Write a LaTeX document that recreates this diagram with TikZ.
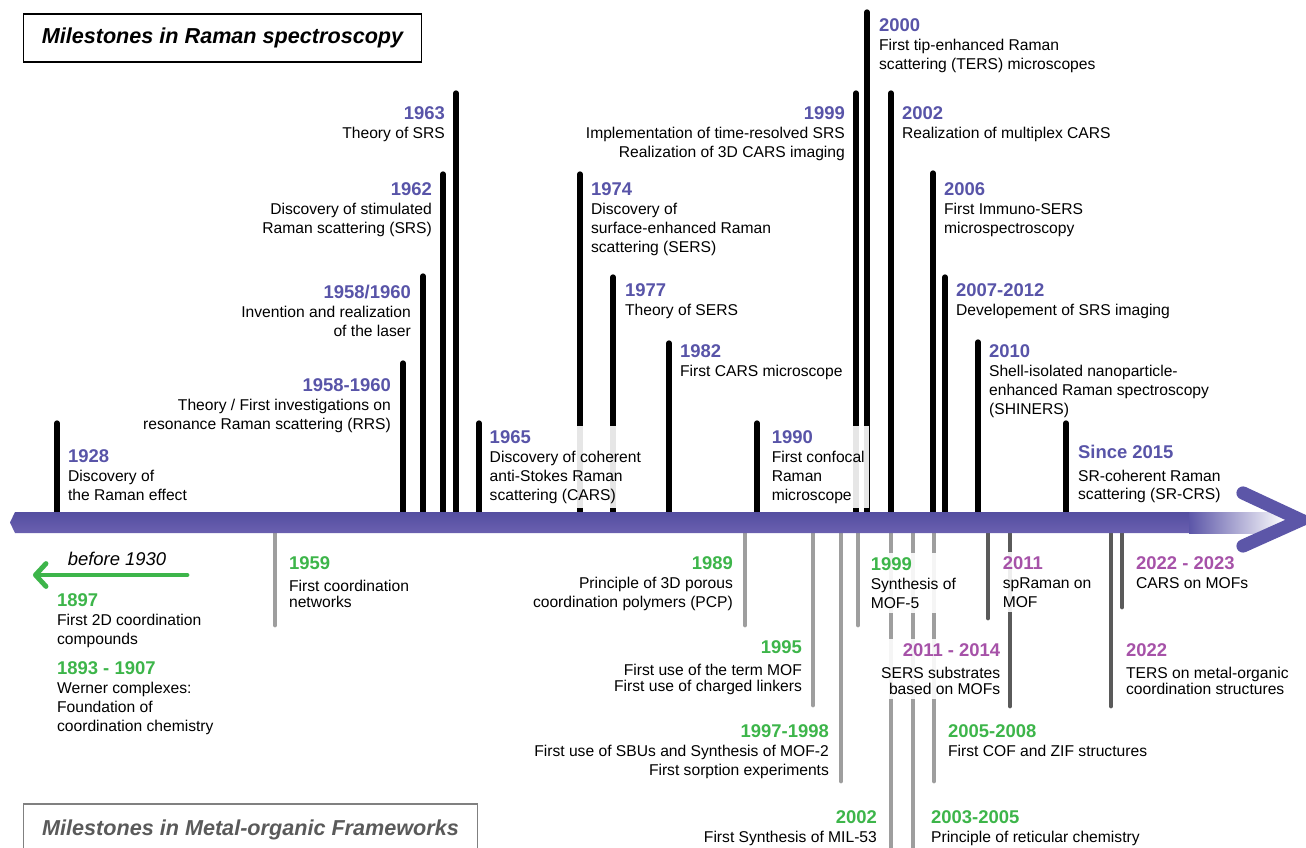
\documentclass[tikz,border=0pt]{standalone}
\usepackage{fontspec}
\setmainfont{Liberation Sans}
\usepackage{tikz}
\usetikzlibrary{arrows.meta}

\definecolor{ramanblue}{RGB}{88,84,168}
\definecolor{axisblue}{RGB}{92,86,168}
\definecolor{axistop}{RGB}{84,78,160}
\definecolor{axisbot}{RGB}{106,96,176}
\definecolor{mofgreen}{RGB}{61,181,74}
\definecolor{mofpink}{RGB}{166,82,168}
\definecolor{stemgray}{RGB}{158,158,158}
\definecolor{darkstem}{RGB}{90,90,90}
\definecolor{boxgray}{RGB}{90,90,90}

\newcommand{\ry}[1]{{\fontsize{10.5}{12}\selectfont\bfseries\color{ramanblue}#1}}
\newcommand{\my}[1]{{\fontsize{10.5}{12}\selectfont\bfseries\color{mofgreen}#1}}
\newcommand{\sy}[1]{{\fontsize{10.5}{12}\selectfont\bfseries\color{mofpink}#1}}

\begin{document}
\begin{tikzpicture}[x=0.02cm,y=-0.02cm,line cap=round,inner sep=1pt]
		\tikzstyle{rstem}=[black,line width=3pt]
		\tikzstyle{mstem}=[stemgray,line width=2.8pt]
		\tikzstyle{sstem}=[darkstem,line width=2.8pt]
		\tikzstyle{lab}=[font=\fontsize{8.9}{10.7}\selectfont]
		\tikzstyle{tight}=[font=\fontsize{8.9}{9}\selectfont]
		\tikzstyle{veil}=[fill=white,fill opacity=0.9,text opacity=1,inner sep=2.5pt]
		\tikzstyle{titlebox}=[draw,line width=0.6pt,font=\fontsize{12.3}{14}\selectfont\bfseries\itshape]

		\useasboundingbox (0,0) rectangle (1306,848);

		\foreach \x/\t in {57/423,403/363,423/276,443/174,456/93,479/423,580/174,613/277,669/343,
				757/423,856/93,867/12,891/93,933/173,945/277,978/342,1066/423}
			\draw[rstem] (\x,516) -- (\x,\t);
		\foreach \x/\b in {275/625,745/625,813/705,841/781,858/625,891/870,913/870,934/781}
			\draw[mstem] (\x,528) -- (\x,\b);
		\foreach \x/\b in {988/618,1010/706,1111/706,1122/607}
			\draw[sstem] (\x,528) -- (\x,\b);

		\shade[top color=axistop,bottom color=axisbot] (15,512) -- (1190,512) -- (1190,533) -- (15,533) -- (10,522.5) -- cycle;
		\shade[left color=axisblue,right color=white] (1189,512) rectangle (1285,533);
		\draw[axisblue,line width=7.5pt,line join=miter] (1243,493) -- (1301,520) -- (1243,546);

		\node[titlebox] (T1) at (222.5,38) [minimum width=7.98cm,minimum height=0.96cm]
			{Milestones in Raman spectroscopy};
		\node[titlebox,draw=gray,text=boxgray] (T2) at (250.5,830) [minimum width=9.1cm,minimum height=1.04cm]
			{Milestones in Metal-organic Frameworks};

		\node[lab,anchor=north west,align=left] (R1) at (66,448) {\ry{1928}\\Discovery of\\the Raman effect};
		\node[lab,anchor=north east,align=right] (R2) at (393,377) {\ry{1958-1960}\\Theory / First investigations on\\resonance Raman scattering (RRS)};
		\node[lab,anchor=north east,align=right] (R3) at (413,283) {\ry{1958/1960}\\Invention and realization\\of the laser};
		\node[lab,anchor=north east,align=right] (R4) at (434,181) {\ry{1962}\\Discovery of stimulated\\Raman scattering (SRS)};
		\node[lab,anchor=north east,align=right] (R5) at (447,105) {\ry{1963}\\Theory of SRS};
		\node[lab,veil,anchor=north west,align=left] (R6) at (485,426) {\ry{1965}\\Discovery of coherent\\anti-Stokes Raman\\scattering (CARS)};
		\node[lab,anchor=north west,align=left] (R7) at (589,181) {\ry{1974}\\Discovery of\\surface-enhanced Raman\\scattering (SERS)};
		\node[lab,anchor=north west,align=left] (R8) at (623,282) {\ry{1977}\\Theory of SERS};
		\node[lab,anchor=north west,align=left] (R9) at (678,343) {\ry{1982}\\First CARS microscope};
		\node[lab,veil,anchor=north west,align=left] (R10) at (767,426) {\ry{1990}\\First confocal\\Raman\\microscope};
		\node[lab,anchor=north east,align=right] (R11) at (847,105) {\ry{1999}\\Implementation of time-resolved SRS\\Realization of 3D CARS imaging};
		\node[lab,anchor=north west,align=left] (R12) at (877,17) {\ry{2000}\\First tip-enhanced Raman\\scattering (TERS) microscopes};
		\node[lab,anchor=north west,align=left] (R13) at (900,105) {\ry{2002}\\Realization of multiplex CARS};
		\node[lab,anchor=north west,align=left] (R14) at (942,181) {\ry{2006}\\First Immuno-SERS\\microspectroscopy};
		\node[lab,anchor=north west,align=left] (R15) at (954,282) {\ry{2007-2012}\\Developement of SRS imaging};
		\node[lab,anchor=north west,align=left] (R16) at (987,343) {\ry{2010}\\Shell-isolated nanoparticle-\\enhanced Raman spectroscopy\\(SHINERS)};
		\node[lab,anchor=north west,align=left] (R17) at (1076,443) {\ry{Since 2015}\\[2.2pt]SR-coherent Raman\\scattering (SR-CRS)};

		\node[font=\fontsize{10.5}{12}\selectfont\itshape] (B0) at (117,559) {before 1930};
		\coordinate (G1) at (187,575);
		\coordinate (G0) at (33,575);
		\draw[mofgreen,line width=2.8pt,-{Straight Barb[round,length=6pt,width=13pt]}] (G1) -- (G0);

		\node[lab,anchor=north west,align=left] (M9) at (55,592) {\my{1897}\\First 2D coordination\\compounds};
		\node[lab,anchor=north west,align=left] (M10) at (55,660) {\my{1893 - 1907}\\Werner complexes:\\Foundation of\\coordination chemistry};
		\node[tight,anchor=north west,align=left] (M1) at (287,555) {\my{1959}\\[3.4pt]First coordination\\networks};
		\node[lab,anchor=north east,align=right] (M2) at (735,555) {\my{1989}\\Principle of 3D porous\\coordination polymers (PCP)};
		\node[tight,anchor=north east,align=right] (M3) at (804,639) {\my{1995}\\[3.4pt]First use of the term MOF\\First use of charged linkers};
		\node[lab,anchor=north east,align=right] (M4) at (831,723) {\my{1997-1998}\\First use of SBUs and Synthesis of MOF-2\\First sorption experiments};
		\node[lab,veil,anchor=north west,align=left] (M5) at (866,553) {\my{1999}\\Synthesis of\\MOF-5};
		\node[lab,anchor=north east,align=right] (M6) at (879,809) {\my{2002}\\First Synthesis of MIL-53};
		\node[lab,anchor=north west,align=left] (M7) at (929,809) {\my{2003-2005}\\Principle of reticular chemistry};
		\node[lab,anchor=north west,align=left] (M8) at (946,723) {\my{2005-2008}\\First COF and ZIF structures};

		\node[tight,veil,anchor=north east,align=right] (S1) at (1005,639) {\sy{2011 - 2014}\\[3.4pt]SERS substrates\\based on MOFs};
		\node[lab,veil,anchor=north west,align=left] (S2) at (998,552) {\sy{2011}\\spRaman on\\MOF};
		\node[lab,anchor=north west,align=left] (S3) at (1134,555) {\sy{2022 - 2023}\\CARS on MOFs};
		\node[tight,anchor=north west,align=left] (S4) at (1124,642) {\sy{2022}\\[3.4pt]TERS on metal-organic\\coordination structures};
\end{tikzpicture}
\end{document}
